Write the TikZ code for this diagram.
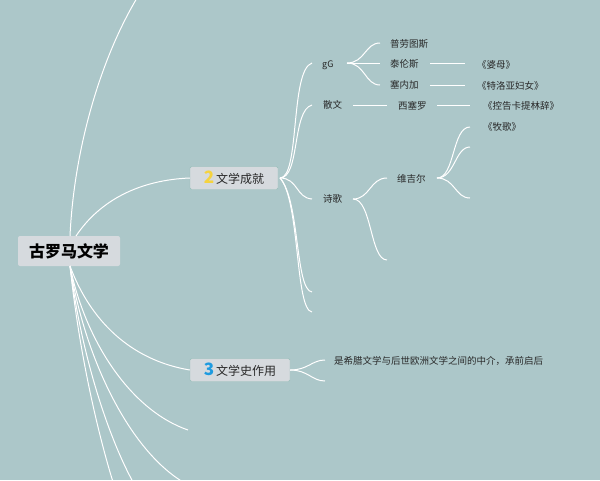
\documentclass[tikz,border=0pt]{standalone}
\usepackage{fontspec}
\setmainfont{Noto Sans CJK SC}
\definecolor{bg}{RGB}{172,199,201}
\definecolor{boxf}{RGB}{214,218,222}
\definecolor{boxd}{RGB}{150,190,185}
\definecolor{tx}{RGB}{40,40,40}
\definecolor{yel}{RGB}{245,211,63}
\definecolor{blu}{RGB}{30,155,224}
\begin{document}
\begin{tikzpicture}[x=1pt,y=-1pt,
  ln/.style={white,line width=1pt},
  topic/.style={fill=boxf,draw=boxd,rounded corners=1.5pt,inner sep=0pt,minimum height=23pt,font=\fontsize{12}{14}\selectfont,text=tx},
  lbl/.style={font=\fontsize{9.5}{11}\selectfont,text=tx,inner sep=0pt,anchor=west}]
\fill[bg] (0,0) rectangle (600,480);
\useasboundingbox (0,0) rectangle (600,480);
\node[fill=boxf,rounded corners=2pt,minimum width=102pt,minimum height=30pt,font=\bfseries\fontsize{16}{18}\selectfont,text=black] (root) at (69,251) {古罗马文学};
\node[topic,minimum width=88pt] (b2) at (234,178) {\textcolor{yel}{\fontsize{17}{17}\selectfont\bfseries 2}\,文学成就};
\node[topic,minimum width=100pt] (b3) at (240,370) {\textcolor{blu}{\fontsize{17}{17}\selectfont\bfseries 3}\,文学史作用};
% root connectors
\coordinate (rt) at (70,236); \coordinate (rb) at (70,266);
\coordinate (e0) at (137,-2); \coordinate (e1) at (188,430);
\coordinate (e2) at (113,482); \coordinate (e3) at (133,482); \coordinate (e4) at (183,482);
\draw[ln] (rt) .. controls (74,150) and (100,60) .. (e0);
\draw[ln] (76,236) .. controls (100,200) and (140,180) .. (b2.west);
\draw[ln] (rb) .. controls (90,320) and (130,360) .. (b3.west);
\draw[ln] (rb) .. controls (85,340) and (130,410) .. (e1);
\draw[ln] (rb) .. controls (80,360) and (100,440) .. (e2);
\draw[ln] (rb) .. controls (82,360) and (110,440) .. (e3);
\draw[ln] (rb) .. controls (85,360) and (130,450) .. (e4);
% branch 2
\node[lbl,font=\fontsize{9}{10}\rmfamily] (gg) at (322,65) {gG};
\node[lbl] (sw) at (323,105) {散文};
\node[lbl] (sg) at (323,199) {诗歌};
\coordinate (c1) at (312,63); \coordinate (c2) at (312,105); \coordinate (c3) at (312,199);
\coordinate (e5) at (312,292); \coordinate (e6) at (312,312);
\coordinate (b2r) at (280,178);
\draw[ln] (b2r) .. controls (300,178) and (290,70) .. (c1);
\draw[ln] (b2r) .. controls (300,178) and (292,110) .. (c2);
\draw[ln] (b2r) .. controls (298,178) and (296,198) .. (c3);
\draw[ln] (b2r) .. controls (300,200) and (295,290) .. (e5);
\draw[ln] (b2r) .. controls (300,200) and (295,310) .. (e6);
% gG children
\node[lbl] (p1) at (390,44) {普劳图斯};
\node[lbl] (p2) at (390,64) {泰伦斯};
\node[lbl] (p3) at (390,85) {塞内加};
\coordinate (ggr) at (347,63);
\draw[ln] (ggr) .. controls (365,63) and (365,43) .. (380,43);
\draw[ln] (ggr) -- (380,63);
\draw[ln] (ggr) .. controls (365,63) and (365,85) .. (380,85);
\node[lbl] (w1) at (477,65) {《婆母》};
\node[lbl] (w2) at (477,86) {《特洛亚妇女》};
\draw[ln] (430,63) -- (465,63);
\draw[ln] (430,85) -- (465,85);
% prose
\node[lbl] (xs) at (398,106) {西塞罗};
\node[lbl] (w3) at (483,106) {《控告卡提林辞》};
\draw[ln] (353,105) -- (387,105);
\draw[ln] (437,105) -- (470,105);
% poetry
\node[lbl] (wj) at (397,179) {维吉尔};
\coordinate (sgr) at (353,199); \coordinate (e7) at (387,260);
\draw[ln] (sgr) .. controls (370,199) and (370,178) .. (387,178);
\draw[ln] (sgr) .. controls (372,199) and (370,260) .. (e7);
\node[lbl] (w4) at (483,127) {《牧歌》};
\coordinate (wjr) at (437,178);
\coordinate (e8) at (470,147); \coordinate (e9) at (470,198);
\draw[ln] (wjr) .. controls (455,178) and (452,127) .. (470,127);
\draw[ln] (wjr) .. controls (455,178) and (455,147) .. (e8);
\draw[ln] (wjr) .. controls (455,178) and (455,198) .. (e9);
% branch 3
\node[lbl] (t3) at (334,361) {是希腊文学与后世欧洲文学之间的中介，承前启后};
\coordinate (e10) at (325,381);
\draw[ln] (b3.east) .. controls (308,370) and (312,360) .. (325,360);
\draw[ln] (b3.east) .. controls (308,370) and (312,381) .. (e10);
\end{tikzpicture}
\end{document}
